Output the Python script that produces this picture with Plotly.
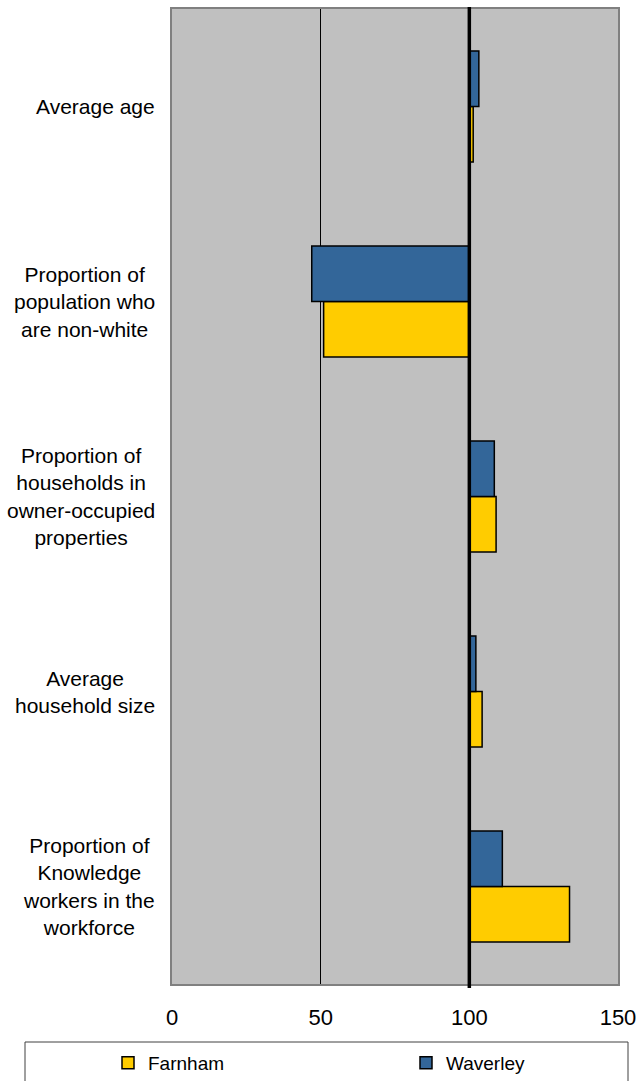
import plotly.graph_objects as go

categories = [
    "Average age",
    "Proportion of<br>population who<br>are non-white",
    "Proportion of<br>households in<br>owner-occupied<br>properties",
    "Average<br>household size",
    "Proportion of<br>Knowledge<br>workers in the<br>workforce",
]
farnham = [101.3, 51.0, 109.0, 104.3, 133.7]
waverley = [103.2, 47.0, 108.4, 102.2, 111.1]
baseline = 100
x_ticks = [0, 50, 100, 150]

FONT = "Liberation Sans, Arial, sans-serif"
cat_order = categories[::-1]

W, H = 641, 1081
PL, PR, PT, PB = 172, 618, 9, 984  # plot area in window pixels
PW, PH = PR - PL, PB - PT


def px_x(x):
    return (x - PL) / PW


def px_y(y):
    return (PB - y) / PH


fig = go.Figure()
fig.add_trace(go.Bar(
    name="Farnham", y=categories, x=[v - baseline for v in farnham], base=baseline,
    orientation="h", marker=dict(color="#FFCC00", line=dict(color="black", width=1.5)),
    legend="legend",
))
fig.add_trace(go.Bar(
    name="Waverley", y=categories, x=[v - baseline for v in waverley], base=baseline,
    orientation="h", marker=dict(color="#336699", line=dict(color="black", width=1.5)),
    legend="legend2",
))

for c in categories:
    fig.add_annotation(
        x=0, xref="paper", y=c, yref="y", text=c, showarrow=False,
        xanchor="right", align="center", xshift=-15,
        font=dict(family=FONT, size=21, color="black"),
    )

fig.add_shape(type="line", xref="x", yref="paper", x0=baseline, x1=baseline,
              y0=-0.004, y1=1.002, line=dict(color="black", width=3.5), layer="above")

# legend border box
fig.add_shape(type="rect", xref="paper", yref="paper",
              x0=px_x(25), x1=px_x(628), y0=px_y(1100), y1=px_y(1042),
              line=dict(color="#404040", width=1), fillcolor="rgba(0,0,0,0)")

leg_common = dict(orientation="h", xanchor="left", yanchor="middle",
                  xref="container", yref="container", y=(H - 1063) / H,
                  font=dict(family=FONT, size=19, color="black"),
                  bgcolor="rgba(0,0,0,0)")

fig.update_layout(
    width=W, height=H,
    margin=dict(l=PL, r=W - PR, t=PT, b=H - PB, autoexpand=False),
    plot_bgcolor="#C0C0C0", paper_bgcolor="white",
    barmode="group", bargap=0.43, bargroupgap=0,
    font=dict(family=FONT, size=19, color="black"),
    showlegend=True,
    legend=dict(x=108 / W, **leg_common),
    legend2=dict(x=406 / W, **leg_common),
    xaxis=dict(range=[0, 150], tickvals=x_ticks, showgrid=True, gridcolor="black",
               gridwidth=1, zeroline=False, showline=True, linecolor="#808080",
               linewidth=2, mirror=True, ticks="outside", ticklen=13,
               tickcolor="rgba(0,0,0,0)", tickfont=dict(family=FONT, size=22),
               automargin=False),
    yaxis=dict(categoryorder="array", categoryarray=cat_order, showticklabels=False,
               showgrid=False, zeroline=False, showline=True, linecolor="#808080",
               linewidth=2, mirror=True, automargin=False),
)

fig.write_html(
    "out.html",
    config={"displayModeBar": False},
    post_script="document.body.style.margin='0';document.body.style.overflow='hidden';",
)
